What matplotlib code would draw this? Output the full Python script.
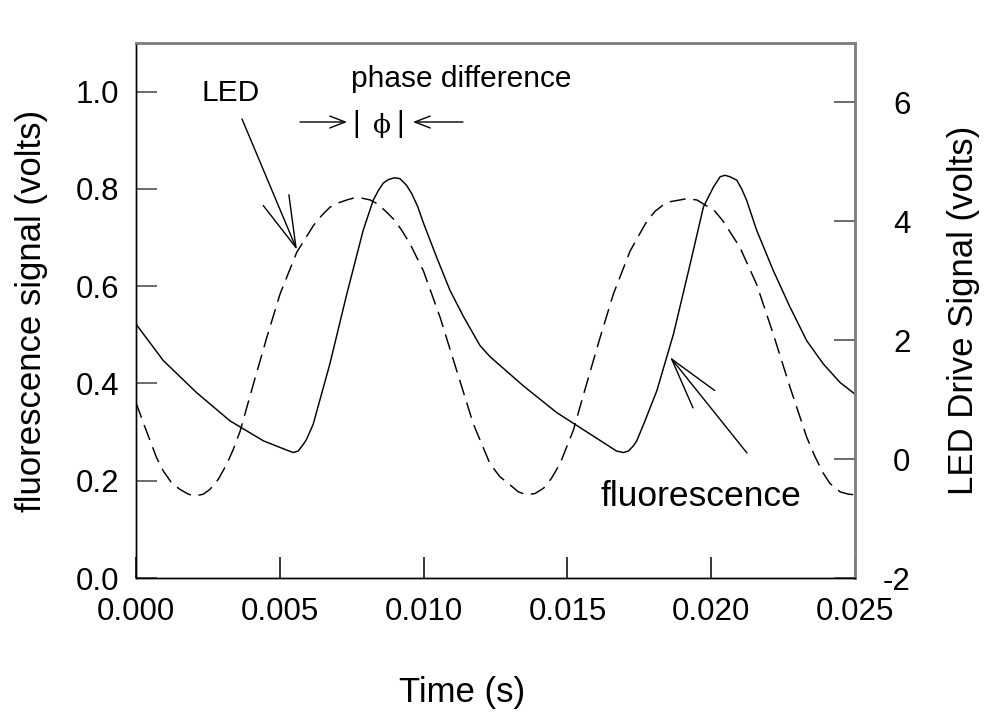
import matplotlib
matplotlib.use("Agg")
import matplotlib.pyplot as plt
from matplotlib.ticker import FormatStrFormatter
from matplotlib.patches import ArrowStyle

plt.rcParams['font.family'] = ['Liberation Sans', 'DejaVu Sans']
plt.rcParams['axes.unicode_minus'] = False

# ---- data ----
fluor_t = [0.0, 0.00095, 0.00211, 0.00327, 0.00443, 0.00524, 0.00547, 0.00564,
           0.00582, 0.00593, 0.00616, 0.00674, 0.00733, 0.0079, 0.00825, 0.00843,
           0.0086, 0.00877, 0.0090, 0.00918, 0.0094, 0.00959, 0.0098, 0.0100,
           0.01045, 0.01092, 0.0114, 0.01196, 0.01231, 0.01347, 0.01463, 0.01579,
           0.01671, 0.01695, 0.01712, 0.0173, 0.01741, 0.01765, 0.01811, 0.01869,
           0.01927, 0.01973, 0.02008, 0.02031, 0.02048, 0.02065, 0.02089, 0.02106,
           0.02123, 0.02158, 0.02216, 0.02274, 0.02332, 0.0239, 0.02448, 0.025]
fluor_v = [0.522, 0.447, 0.381, 0.323, 0.282, 0.263, 0.258, 0.261,
           0.275, 0.285, 0.316, 0.44, 0.584, 0.715, 0.777, 0.797,
           0.812, 0.819, 0.823, 0.821, 0.808, 0.79, 0.763, 0.729,
           0.66, 0.591, 0.536, 0.478, 0.455, 0.395, 0.34, 0.296,
           0.261, 0.258, 0.261, 0.272, 0.282, 0.316, 0.385, 0.502,
           0.646, 0.763, 0.804, 0.825, 0.828, 0.825, 0.818, 0.80,
           0.777, 0.715, 0.632, 0.557, 0.488, 0.44, 0.402, 0.378]

led_t = [0.0, 0.000255, 0.00049, 0.000719, 0.00095, 0.00124, 0.00153, 0.00182,
         0.00205, 0.00234, 0.00257, 0.00286, 0.00315, 0.00338, 0.00362, 0.00408,
         0.00455, 0.00501, 0.00559, 0.00617, 0.00646, 0.00675, 0.00704, 0.00733,
         0.00756, 0.00785, 0.00814, 0.00837, 0.00866, 0.00895, 0.00924, 0.00953,
         0.00999, 0.01057, 0.01115, 0.01173, 0.01231, 0.01266, 0.01300, 0.01329,
         0.01358, 0.01387, 0.01417, 0.01445, 0.01475, 0.01521, 0.01567, 0.01614,
         0.0166, 0.01718, 0.01776, 0.01805, 0.01834, 0.01857, 0.01915, 0.01950,
         0.01984, 0.02013, 0.02042, 0.021, 0.02158, 0.02216, 0.02274, 0.02332,
         0.02361, 0.0239, 0.02413, 0.02448, 0.02477, 0.025]
led_v = [0.95, 0.61, 0.31, 0.02, -0.2, -0.40, -0.51, -0.59,
         -0.62, -0.59, -0.51, -0.34, -0.09, 0.16, 0.47, 1.26,
         2.05, 2.78, 3.48, 3.93, 4.10, 4.24, 4.31, 4.36,
         4.39, 4.39, 4.36, 4.30, 4.18, 4.04, 3.85, 3.62,
         3.17, 2.39, 1.49, 0.59, -0.08, -0.30, -0.43, -0.55,
         -0.60, -0.58, -0.49, -0.32, -0.07, 0.49, 1.27, 2.05,
         2.78, 3.5, 4.0, 4.17, 4.28, 4.33, 4.38, 4.36,
         4.26, 4.17, 4.0, 3.56, 2.94, 2.1, 1.21, 0.37,
         0.04, -0.24, -0.41, -0.55, -0.59, -0.60]

x_ticks = [0.000, 0.005, 0.010, 0.015, 0.020, 0.025]
left_ticks = [0.0, 0.2, 0.4, 0.6, 0.8, 1.0]
right_ticks = [-2, 0, 2, 4, 6]

# ---- figure ----
W, H = 1000, 718
fig = plt.figure(figsize=(W / 100, H / 100), dpi=100)
ax = fig.add_axes([136 / W, 1 - 578 / H, 719 / W, 535 / H])
ax2 = ax.twinx()

ax.plot(fluor_t, fluor_v, color='black', lw=1.05, solid_joinstyle='round')
ax2.plot(led_t, led_v, color='black', lw=1.05, linestyle=(0, (11.0, 5.3)))

ax.set_xlim(0, 0.025)
ax.set_ylim(0, 1.1)
ax2.set_ylim(-2, 7)

ax.set_xticks(x_ticks)
ax.set_yticks(left_ticks)
ax2.set_yticks(right_ticks)
ax.xaxis.set_major_formatter(FormatStrFormatter('%.3f'))
ax.yaxis.set_major_formatter(FormatStrFormatter('%.1f'))
ax2.yaxis.set_major_formatter(FormatStrFormatter('%d'))

ax.tick_params(axis='x', direction='in', length=15, width=1.1, pad=14,
               labelsize=22.5, top=False, colors='black')
ax.tick_params(axis='y', direction='in', length=15, width=1.1, pad=12,
               labelsize=22.5, right=False, color='#444444', labelcolor='black')
ax2.tick_params(axis='y', direction='in', length=15, width=1.1, pad=40,
                labelsize=22.5, color='#444444', labelcolor='black')
for lab in ax2.get_yticklabels():
    lab.set_horizontalalignment('right')

for a in (ax, ax2):
    a.spines['left'].set_color('black')
    a.spines['left'].set_linewidth(1.0)
    a.spines['bottom'].set_color('black')
    a.spines['bottom'].set_linewidth(1.0)
    a.spines['top'].set_color('#808080')
    a.spines['top'].set_linewidth(1.8)
    a.spines['right'].set_color('#808080')
    a.spines['right'].set_linewidth(1.8)

ax.set_xlabel('Time (s)', fontsize=25)
ax.xaxis.set_label_coords((462 - 136) / 719, -(676 - 578) / 535)
ax.xaxis.label.set_verticalalignment('top')
ax.set_ylabel('fluorescence signal (volts)', fontsize=25, labelpad=20)
ax2.set_ylabel('LED Drive Signal (volts)', fontsize=25, labelpad=26)


def fp(x, y):
    return (x / W, 1 - y / H)


# text annotations
fig.text(*fp(231, 101), 'LED', fontsize=21.5, ha='center', va='baseline')
fig.text(*fp(461, 87), 'phase difference', fontsize=21.5, ha='center', va='baseline')
fig.text(*fp(701, 506), 'fluorescence', fontsize=25.5, ha='center', va='baseline')
fig.text(*fp(356, 124), '|', fontsize=21, ha='center', va='center')
fig.text(*fp(400, 124), '|', fontsize=21, ha='center', va='center')
fig.text(*fp(382, 126), '\u03d5', fontsize=19, ha='center', va='center',
         family=['DejaVu Serif'])

big_head = ArrowStyle('->', head_length=37, head_width=10)
small_head = ArrowStyle('->', head_length=11, head_width=4.3)


def arrow(tail, tip, style):
    ax.annotate('', xy=fp(*tip), xytext=fp(*tail),
                xycoords='figure fraction', textcoords='figure fraction',
                arrowprops=dict(arrowstyle=style, mutation_scale=1, lw=1.0,
                                color='black', shrinkA=0, shrinkB=0),
                annotation_clip=False)


arrow((242, 119), (297, 250), big_head)
arrow((747, 453), (670, 357), big_head)
arrow((300, 122), (347, 122), small_head)
arrow((463, 122), (413, 122), small_head)

fig.savefig('out.png', dpi=100)
